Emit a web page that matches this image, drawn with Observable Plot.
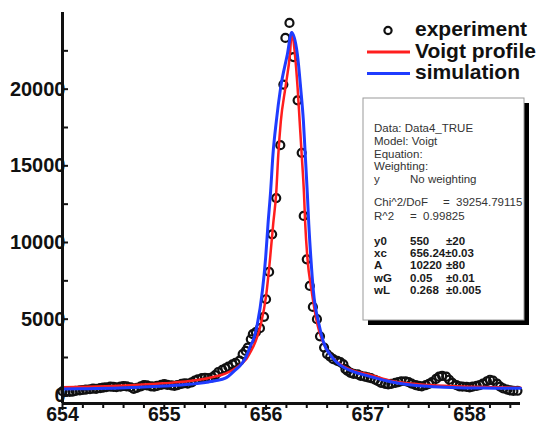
<!DOCTYPE html>
<html><head><meta charset="utf-8">
<script src="https://cdn.jsdelivr.net/npm/d3@7"></script>
<script src="https://cdn.jsdelivr.net/npm/@observablehq/plot@0.6"></script>
<style>
body{margin:0;background:#fff;}
#wrap{position:relative;width:539px;height:423px;overflow:hidden;background:#fff;}
#wrap svg{position:absolute;left:0;top:0;}
</style></head><body><div id="wrap"></div>
<script>
// ---- data ----
const expX = [654.00,654.03,654.07,654.10,654.13,654.17,654.20,654.23,654.27,654.30,654.33,654.37,654.40,654.43,654.47,654.50,654.53,654.57,654.60,654.63,654.67,654.70,654.73,654.77,654.80,654.83,654.87,654.90,654.93,654.97,655.00,655.03,655.07,655.10,655.13,655.17,655.20,655.23,655.27,655.30,655.33,655.37,655.40,655.43,655.47,655.50,655.53,655.57,655.60,655.63,655.67,655.70,
  655.74,655.77,655.80,655.82,655.85,655.87,655.90,655.94,655.98,656.00,656.03,656.06,656.10,656.14,656.17,656.19,656.23,656.27,656.31,656.35,656.37,656.40,656.43,656.46,656.50,656.53,656.57,656.60,656.63,656.66,656.70,656.73,656.76,656.78,656.80,656.83,656.86,
  656.90,656.93,656.97,657.00,657.03,657.07,657.10,657.13,657.17,657.20,657.23,657.27,657.30,657.33,657.37,657.40,657.43,657.47,657.50,657.53,657.57,657.60,657.63,657.67,657.70,657.73,657.77,657.80,657.83,657.87,657.90,657.93,657.97,658.00,658.03,658.07,658.10,658.13,658.17,658.20,658.23,658.27,658.30,658.33,658.37,658.40,658.43,658.47];
const expY = [300,260,250,280,320,360,380,400,430,470,460,500,540,560,600,580,560,600,640,620,560,450,520,620,700,680,620,600,650,720,760,720,680,650,700,780,820,800,880,1000,1080,1150,1180,1150,1200,1350,1550,1700,1800,1900,2050,2150,
  2300,2720,2930,3150,3690,4020,4150,4410,5150,6300,8080,10530,12900,16350,20300,23340,24320,22090,19270,15850,11730,8900,7170,5800,5000,3880,3150,2720,2550,2390,2280,2200,2060,1740,1630,1500,1430,
  1400,1300,1250,1200,1150,1050,950,850,780,750,780,850,900,950,950,900,800,700,650,620,700,780,900,1100,1250,1300,1250,1050,850,700,620,600,580,550,600,650,700,800,950,1050,1000,800,600,480,400,350,320,330];

const voigtX = [654.0,654.25,654.5,654.75,655.0,655.25,655.5,655.6,655.7,655.75,655.8,655.85,655.9,655.95,656.0,656.04,656.07,656.1,656.12,656.145,656.19,656.235,656.252,656.284,656.31,656.33,656.35,656.373,656.385,656.406,656.448,656.504,656.554,656.652,656.766,656.85,657.0,657.25,657.5,657.75,658.0,658.25,658.5];
const voigtY = [560,600,640,720,820,960,1260,1450,1800,2050,2350,2900,3600,4700,6500,9000,11200,13250,15700,17900,20100,22300,23700,22260,20085,17916,15747,13140,11186,9010,6840,4671,3583,2495,1900,1650,1410,950,760,650,590,560,520];

const simX = [654.0,654.25,654.5,654.75,655.0,655.25,655.5,655.6,655.7,655.75,655.8,655.85,655.871,655.914,655.964,655.996,656.019,656.045,656.068,656.101,656.143,656.209,656.252,656.308,656.34,656.367,656.385,656.406,656.42,656.44,656.465,656.52,656.56,656.652,656.766,656.85,657.0,657.25,657.5,657.75,658.0,658.25,658.5];
const simY = [450,470,500,560,640,750,980,1150,1700,2000,2500,3300,3583,4671,6840,9010,11186,13356,15747,17916,20085,22260,23700,22260,20085,17916,15747,13140,11186,9010,6840,4671,3583,2495,1843,1600,1300,880,650,560,510,500,490];

const xMajorTicks = [654,655,656,657,658];
const xMinorTicks = [654.2,654.4,654.6,654.8,655.2,655.4,655.6,655.8,656.2,656.4,656.6,656.8,657.2,657.4,657.6,657.8,658.2,658.4];
const yLabelTicks = [0,5000,10000,15000,20000];
const yTicks = [0,2500,5000,7500,10000,12500,15000,17500,20000,22500];

const legendLabels = ["experiment","Voigt profile","simulation"];
const statsHeader = ["Data: Data4_TRUE","Model: Voigt","Equation:","Weighting:"];
const weightRow = ["y","No weighting"];
const chiRow = ["Chi^2/DoF","=","39254.79115"];
const r2Row = ["R^2","=","0.99825"];
const paramNames = ["y0","xc","A","wG","wL"];
const paramValues = ["550","656.24±0.03","10220","0.05","0.268"];
const paramErrors = ["±20","","±80","±0.01","±0.005"];

// ---- chart ----
const FONT = "'Liberation Sans', Arial, Helvetica, sans-serif";
const INK = "#111";
const RED = "#ff1e1e";
const BLUE = "#1f3cff";

const exp = expX.map((x, i) => ({x, y: expY[i]}));
const voigt = voigtX.map((x, i) => ({x, y: voigtY[i]}));
const sim = simX.map((x, i) => ({x, y: simY[i]}));

const W = 539, H = 423, ML = 62, MR = 19, MT = 12, MB = 20;

const chart = Plot.plot({
  width: W, height: H,
  marginLeft: ML, marginRight: MR, marginTop: MT, marginBottom: MB,
  style: {fontFamily: FONT, background: "transparent", overflow: "visible", color: INK},
  x: {domain: [654, 658.5]},
  y: {domain: [-500, 25000]},
  marks: [
    Plot.dot(exp, {x: "x", y: "y", r: 4, stroke: INK, strokeWidth: 2.2, fill: "none"}),
    Plot.line(voigt, {x: "x", y: "y", stroke: RED, strokeWidth: 2.5, curve: "monotone-x"}),
    Plot.line(sim, {x: "x", y: "y", stroke: BLUE, strokeWidth: 3, curve: "monotone-x"}),
    Plot.ruleX([654], {stroke: INK, strokeWidth: 3}),
    Plot.ruleY([-500], {stroke: INK, strokeWidth: 3}),
    Plot.tickY(yTicks, {y: d => d, stroke: INK, strokeWidth: 2, insetRight: W - ML - MR - 6}),
    Plot.axisX({ticks: xMinorTicks, tickSize: 5, text: null, strokeWidth: 2, label: null}),
    Plot.axisX({ticks: xMajorTicks, tickSize: 7, text: null, strokeWidth: 2, label: null}),
    Plot.axisX({ticks: xMajorTicks, tickSize: 0, tickPadding: 4, fontSize: 19.5, fontWeight: "bold", label: null, tickFormat: d => String(d)}),
    Plot.axisY({ticks: yLabelTicks, tickSize: 0, tickPadding: -3, fontSize: 20, fontWeight: "bold", label: null, tickFormat: d => String(d)})
  ]
});
const wrap = document.getElementById("wrap");
wrap.appendChild(chart);

// ---- overlay: legend and fit-statistics box ----
const ov = d3.select(wrap).append("svg")
  .attr("width", W).attr("height", H)
  .style("font-family", FONT);

const lg = ov.append("g");
lg.append("circle").attr("cx", 388).attr("cy", 30.5).attr("r", 3.6)
  .attr("fill", "none").attr("stroke", INK).attr("stroke-width", 2.2);
lg.append("line").attr("x1", 367).attr("x2", 410).attr("y1", 52).attr("y2", 52)
  .attr("stroke", RED).attr("stroke-width", 3);
lg.append("line").attr("x1", 367).attr("x2", 410).attr("y1", 73.5).attr("y2", 73.5)
  .attr("stroke", BLUE).attr("stroke-width", 3);
[36, 57.5, 79].forEach((yb, i) => {
  lg.append("text").attr("x", 415).attr("y", yb).attr("font-size", 21)
    .attr("font-weight", "bold").attr("fill", INK).text(legendLabels[i]);
});

const bx = 363, by = 98, bw = 161, bh = 222;
ov.append("defs").append("clipPath").attr("id", "boxclip")
  .append("rect").attr("x", bx).attr("y", by).attr("width", bw).attr("height", bh);
ov.append("rect").attr("x", bx + 5).attr("y", by + 5).attr("width", bw).attr("height", bh).attr("fill", "#000");
ov.append("rect").attr("x", bx).attr("y", by).attr("width", bw).attr("height", bh)
  .attr("fill", "#fff").attr("stroke", "#9a9a9a").attr("stroke-width", 1);

const st = ov.append("g").attr("clip-path", "url(#boxclip)").attr("font-size", 11.5).attr("fill", "#333");
const c1 = 374, c2 = 410, c3 = 446;
[132, 145, 158, 170].forEach((yb, i) => st.append("text").attr("x", c1).attr("y", yb).text(statsHeader[i]));
st.append("text").attr("x", c1).attr("y", 183).text(weightRow[0]);
st.append("text").attr("x", c2).attr("y", 183).text(weightRow[1]);
st.append("text").attr("x", c1).attr("y", 206).text(chiRow[0]);
st.append("text").attr("x", 443).attr("y", 206).text(chiRow[1]);
st.append("text").attr("x", 456).attr("y", 206).text(chiRow[2]);
st.append("text").attr("x", c1).attr("y", 220).text(r2Row[0]);
st.append("text").attr("x", c2).attr("y", 220).text(r2Row[1]);
st.append("text").attr("x", 423).attr("y", 220).text(r2Row[2]);
const pg = st.append("g").attr("font-weight", "bold").attr("fill", "#1a1a1a");
[245, 257, 269, 282, 294].forEach((yb, i) => {
  pg.append("text").attr("x", c1).attr("y", yb).text(paramNames[i]);
  pg.append("text").attr("x", c2).attr("y", yb).text(paramValues[i]);
  if (paramErrors[i]) pg.append("text").attr("x", c3).attr("y", yb).text(paramErrors[i]);
});
</script>
</body></html>
